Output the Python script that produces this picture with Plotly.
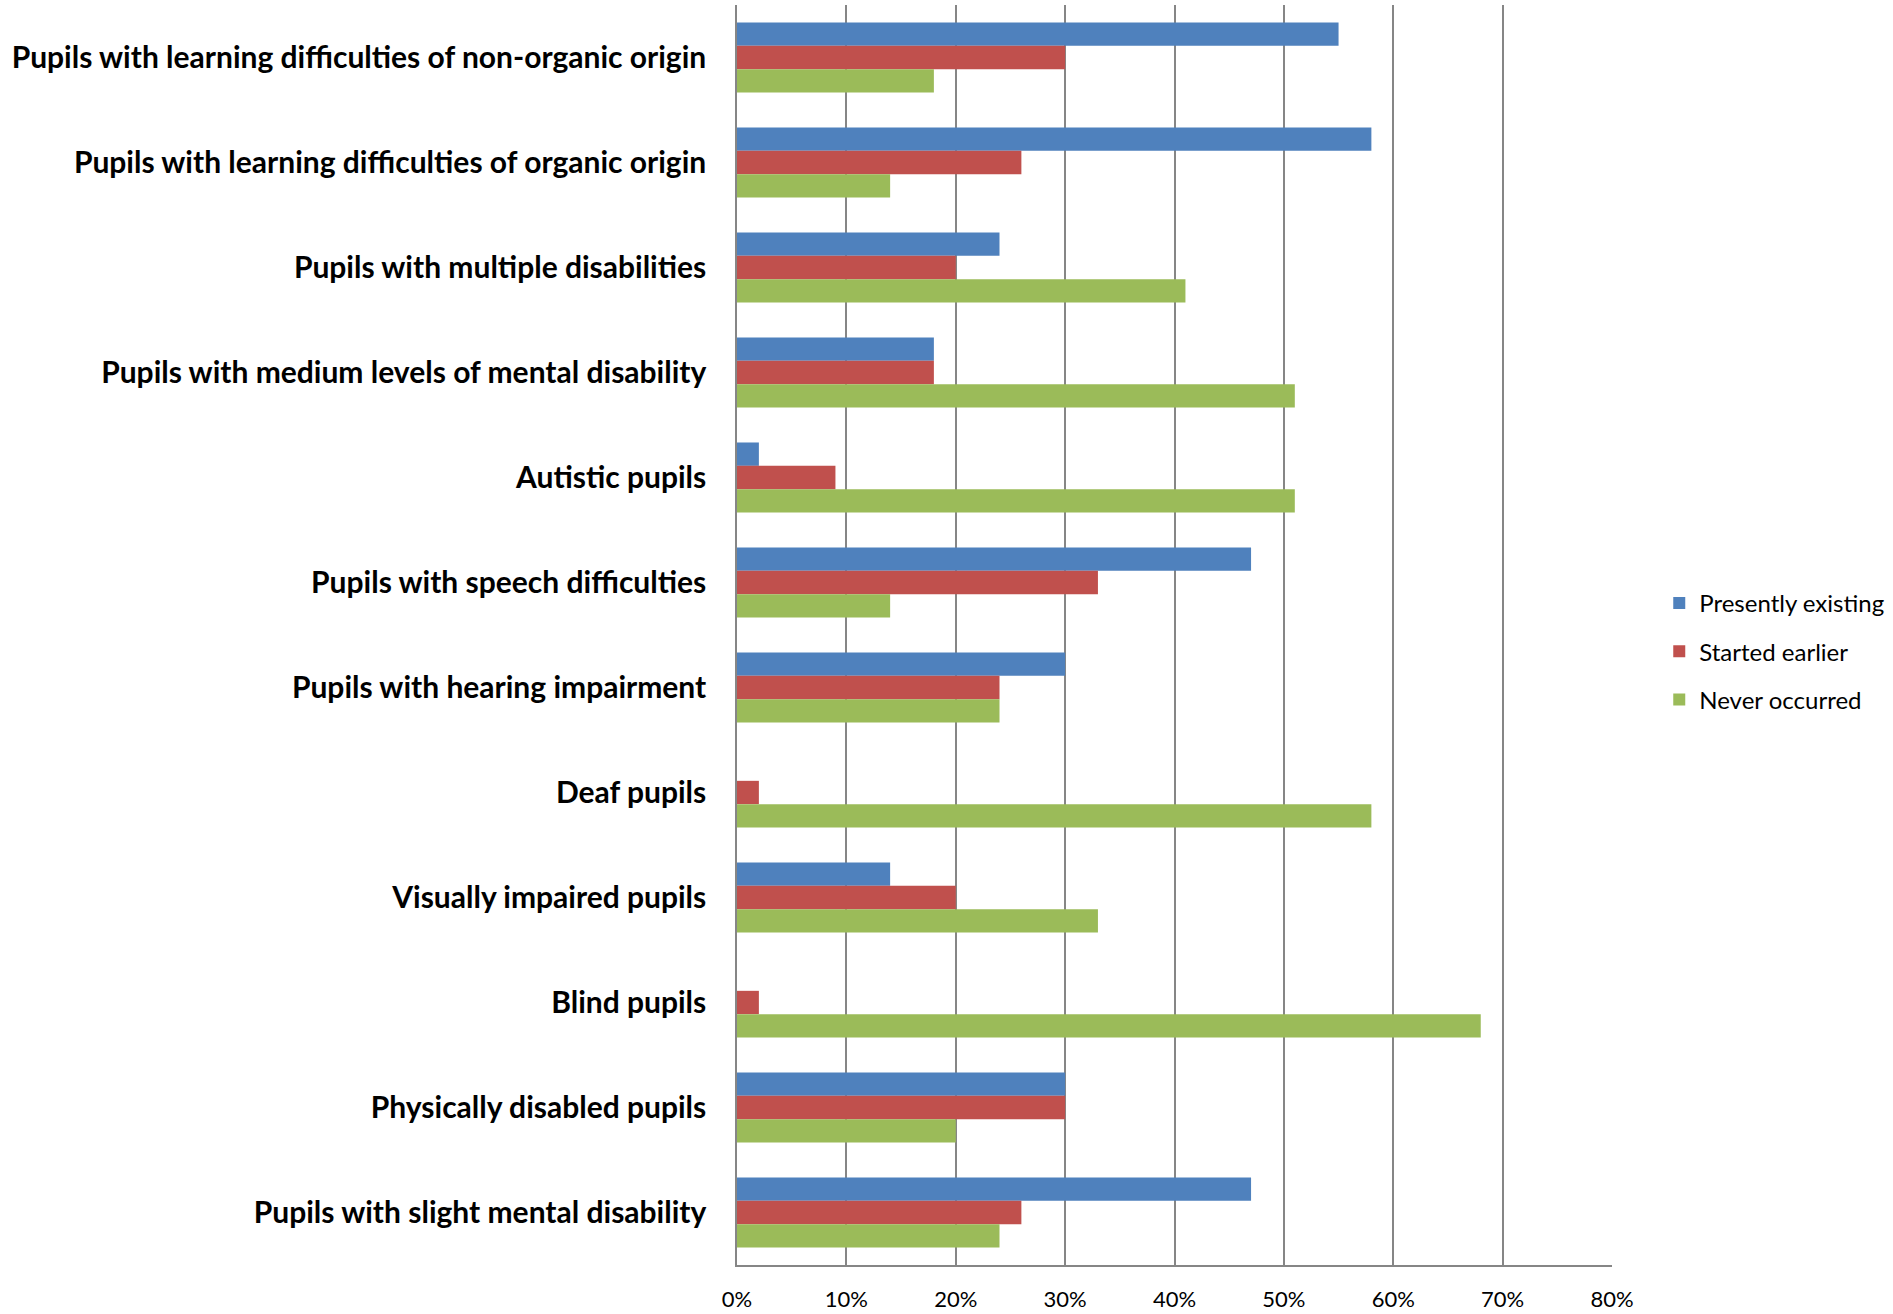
import plotly.graph_objects as go

categories = [
    "Pupils with learning difficulties of non-organic origin",
    "Pupils with learning difficulties of organic origin",
    "Pupils with multiple disabilities",
    "Pupils with medium levels of mental disability",
    "Autistic pupils",
    "Pupils with speech difficulties",
    "Pupils with hearing impairment",
    "Deaf pupils",
    "Visually impaired pupils",
    "Blind pupils",
    "Physically disabled pupils",
    "Pupils with slight mental disability",
]
presently_existing = [0.55, 0.58, 0.24, 0.18, 0.02, 0.47, 0.30, 0.0, 0.14, 0.0, 0.30, 0.47]
started_earlier    = [0.30, 0.26, 0.20, 0.18, 0.09, 0.33, 0.24, 0.02, 0.20, 0.02, 0.30, 0.26]
never_occurred     = [0.18, 0.14, 0.41, 0.51, 0.51, 0.14, 0.24, 0.58, 0.33, 0.68, 0.20, 0.24]
x_ticks = [0, 0.1, 0.2, 0.3, 0.4, 0.5, 0.6, 0.7, 0.8]
x_tick_labels = ["0%", "10%", "20%", "30%", "40%", "50%", "60%", "70%", "80%"]

series = [
    ("Presently existing", presently_existing, "#4F81BD"),
    ("Started earlier", started_earlier, "#C0504D"),
    ("Never occurred", never_occurred, "#9BBB59"),
]

fig = go.Figure()
for name, vals, col in series:
    fig.add_trace(go.Bar(
        y=categories, x=vals, name=name, orientation="h",
        legendgroup=name,
        marker=dict(color=col, line=dict(width=0)),
    ))

fig.update_layout(
    width=1893, height=1314,
    margin=dict(l=737, r=281, t=5, b=49, autoexpand=False),
    barmode="group", bargap=0.333, bargroupgap=0,
    plot_bgcolor="white", paper_bgcolor="white",
    font=dict(family="Lato", color="black"),
    legend=dict(
        x=1.054, xanchor="left", y=0.487, yanchor="middle",
        font=dict(size=24, family="Lato"),
        tracegroupgap=14, itemwidth=30,
    ),
    xaxis=dict(
        range=[0, 0.8], tickvals=x_ticks, ticktext=x_tick_labels,
        showgrid=True, gridcolor="#868686", gridwidth=1.5,
        showline=True, linecolor="#868686", linewidth=1.5, mirror=False,
        zeroline=False, ticks="", tickfont=dict(size=22, family="Lato"),
        ticklabelstandoff=14, automargin=False,
    ),
    yaxis=dict(
        autorange="reversed", showgrid=False, showline=True,
        linecolor="#868686", linewidth=1.5, ticks="",
        tickfont=dict(size=30, family="Lato", weight="bold"),
        ticklabelstandoff=23, automargin=False,
    ),
)
fig.write_html("out.html")
